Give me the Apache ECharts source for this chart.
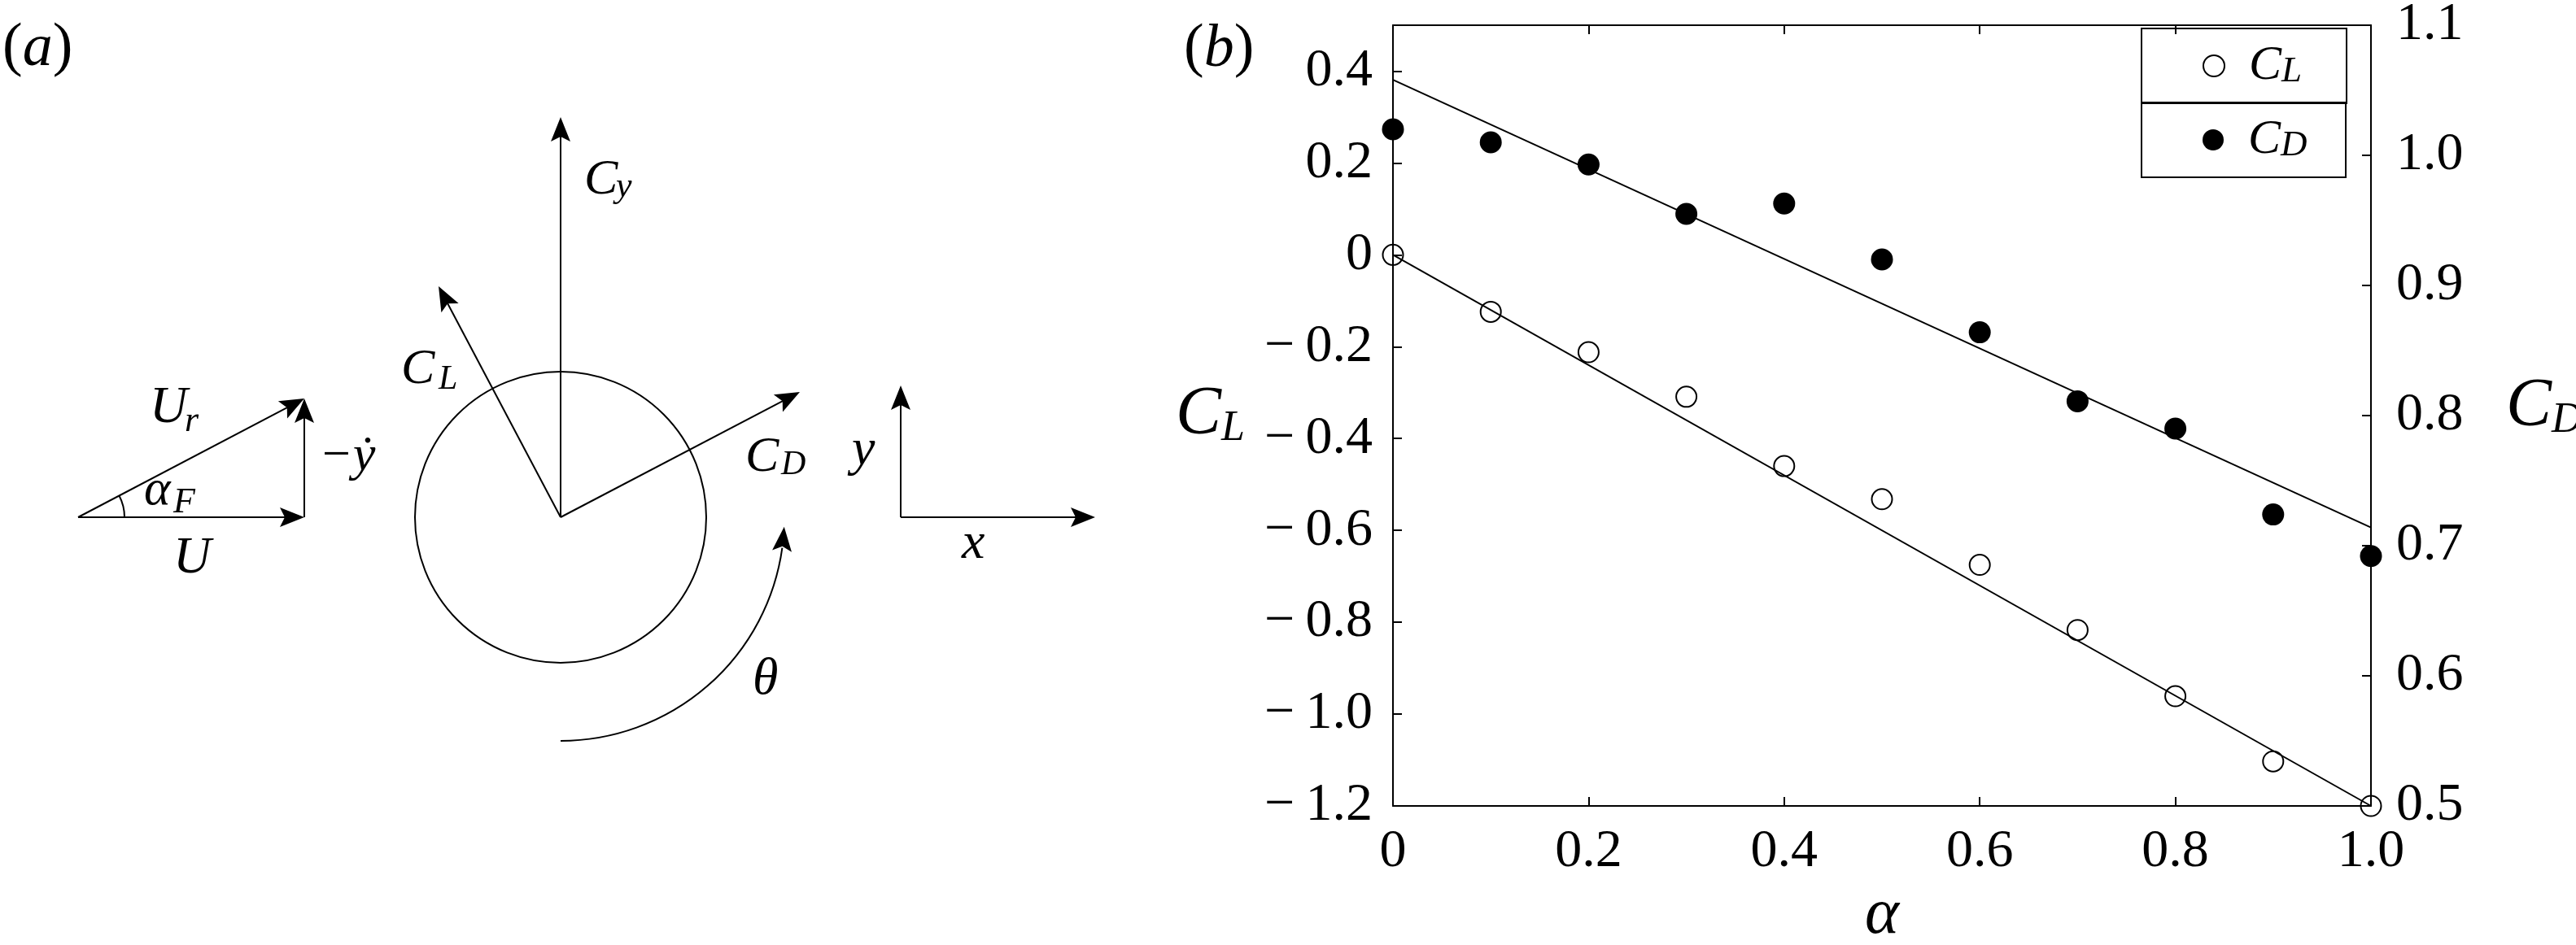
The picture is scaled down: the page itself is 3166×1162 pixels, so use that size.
<!DOCTYPE html>
<html>
<head>
<meta charset="utf-8">
<title>C_L and C_D against alpha</title>
<script src="https://cdn.jsdelivr.net/npm/echarts@6/dist/echarts.min.js"></script>
<style>
  html, body { margin: 0; padding: 0; background: #fff; }
  #chart { width: 3166px; height: 1162px; }
</style>
</head>
<body>
<div id="chart"></div>
<script>
// values
const alpha = [0, 0.1, 0.2, 0.3, 0.4, 0.5, 0.6, 0.7, 0.8, 0.9, 1.0];
const clValues = [0, -0.124, -0.212, -0.309, -0.460, -0.532, -0.675, -0.817, -0.961, -1.103, -1.200];
const cdValues = [1.020, 1.010, 0.993, 0.955, 0.963, 0.920, 0.864, 0.811, 0.790, 0.724, 0.692];
// straight fit lines, value at alpha = 0 and alpha = 1
const fitAlpha = [0, 1.0];
const clFit = [0.0, -1.2];
const cdFit = [1.058, 0.714];
// axis ranges
const alphaRange = [0, 1.0];
const clRange = [-1.2, 0.5];
const cdRange = [0.5, 1.1];

const serif = 'Liberation Serif';

function pairs(xs, ys) {
  return xs.map((x, i) => [x, ys[i]]);
}

// 0 -> "0", negatives with a long minus sign
function fmt(v) {
  if (Math.abs(v) < 1e-9) return '0';
  const s = Math.abs(v).toFixed(1);
  return v < 0 ? '\u2212\u2009' + s : s;
}

// ---- schematic (a) helpers ----
const LW = 2;
function seg(x1, y1, x2, y2) {
  return { type: 'line', shape: { x1, y1, x2, y2 }, style: { stroke: '#000', lineWidth: LW } };
}
function head(tx, ty, dx, dy) {
  const len = Math.hypot(dx, dy);
  const ux = dx / len, uy = dy / len;
  const L = 30, W = 12, N = 6;
  const bx = tx - ux * L, by = ty - uy * L;
  return {
    type: 'polygon',
    shape: { points: [[tx, ty], [bx - uy * W, by + ux * W], [tx - ux * (L - N), ty - uy * (L - N)], [bx + uy * W, by - ux * W]] },
    style: { fill: '#000' }
  };
}
function arrow(x1, y1, x2, y2) {
  const dx = x2 - x1, dy = y2 - y1, len = Math.hypot(dx, dy);
  return [seg(x1, y1, x2 - dx / len * 20, y2 - dy / len * 20), head(x2, y2, dx, dy)];
}
function label(str, x, base, size, italic) {
  const st = { text: str, fill: '#000', fontSize: size, fontFamily: serif, align: 'left', verticalAlign: 'middle' };
  if (italic) st.fontStyle = 'italic';
  return { type: 'text', x: x, y: base - 0.31 * size, style: st };
}
function panelTag(letter, x, base) {
  return {
    type: 'text', x: x, y: base - 0.31 * 74,
    style: {
      text: '{n|(}{i|' + letter + '}{n|)}', align: 'left', verticalAlign: 'middle',
      rich: {
        n: { fontSize: 74, fontFamily: serif, fill: '#000' },
        i: { fontSize: 74, fontFamily: serif, fontStyle: 'italic', fill: '#000' }
      }
    }
  };
}

// cylinder centre and theta arc
const cx = 689, cy = 636;
const thetaR = 275, thetaTip = 0.043, thetaEnd = thetaTip + 26 / thetaR;
const tipX = cx + thetaR * Math.cos(thetaTip), tipY = cy + thetaR * Math.sin(thetaTip);
const endX = cx + thetaR * Math.cos(thetaEnd), endY = cy + thetaR * Math.sin(thetaEnd);

const schematic = [].concat(
  panelTag('a', 3, 83),
  panelTag('b', 1455, 84),
  // velocity triangle
  arrow(96, 636, 374, 636),
  arrow(96, 636, 374, 490),
  arrow(374, 636, 374, 490),
  [{ type: 'arc', shape: { cx: 96, cy: 636, r: 57, startAngle: -0.483, endAngle: 0, clockwise: true },
     style: { fill: 'none', stroke: '#000', lineWidth: LW } }],
  label('U', 184, 522, 64, true), label('r', 227, 532, 44, true),
  label('\u03b1', 177, 623, 62, true), label('F', 213, 632, 44, true),
  label('U', 213, 707, 64, true),
  label('\u2212\u1e8f', 392, 581, 62, true),
  // cylinder and force vectors
  [{ type: 'circle', shape: { cx: cx, cy: cy, r: 179 }, style: { fill: 'none', stroke: '#000', lineWidth: LW } }],
  arrow(cx, cy, 689, 144),
  arrow(cx, cy, 539, 352),
  arrow(cx, cy, 983, 482),
  label('C', 718, 241, 62, true), label('y', 757, 244, 44, true),
  label('C', 493, 474, 62, true), label('L', 539, 480, 42, true),
  label('C', 916, 582, 62, true), label('D', 960, 585, 42, true),
  // rotation theta
  [{ type: 'arc', shape: { cx: cx, cy: cy, r: thetaR, startAngle: Math.PI / 2, endAngle: thetaEnd, clockwise: false },
     style: { fill: 'none', stroke: '#000', lineWidth: LW } }],
  [head(tipX, tipY, tipX - endX, tipY - endY)],
  label('\u03b8', 925, 856, 64, true),
  // coordinate axes
  arrow(1107, 636, 1107, 474),
  arrow(1107, 636, 1346, 636),
  label('y', 1047, 574, 64, true),
  label('x', 1182, 689, 64, true)
);

// ---- chart (b) ----
const axisLine = { show: true, onZero: false, lineStyle: { color: '#000', width: 2 } };
const axisTick = { show: true, inside: true, length: 11, lineStyle: { color: '#000', width: 2 } };
const tickFont = { color: '#000', fontSize: 66, fontFamily: serif };
const nameRich = {
  c: { fontSize: 84, fontStyle: 'italic', fontFamily: serif, color: '#000', lineHeight: 84 },
  s: { fontSize: 52, fontStyle: 'italic', fontFamily: serif, color: '#000', lineHeight: 44, verticalAlign: 'bottom' }
};

function legendBox(name, top) {
  return {
    data: [name], selectedMode: false, orient: 'vertical',
    left: 2632, top: top,
    itemWidth: 26, itemHeight: 26,
    padding: [16, 44, 16, 75],
    borderColor: '#000', borderWidth: 2, borderRadius: 0,
    formatter: n => '{c|C}{s|' + n.slice(1) + '}',
    textStyle: {
      fontFamily: serif,
      rich: {
        c: { fontSize: 60, fontStyle: 'italic', fontFamily: serif, color: '#000', lineHeight: 60, padding: [0, 0, 0, 25] },
        s: { fontSize: 45, fontStyle: 'italic', fontFamily: serif, color: '#000', lineHeight: 34, verticalAlign: 'bottom', width: 36 }
      }
    }
  };
}

const option = {
  animation: false,
  backgroundColor: '#fff',
  grid: { left: 1712, right: 252, top: 31, bottom: 171, containLabel: false, outerBoundsMode: 'none' },
  legend: [legendBox('CL', 35), legendBox('CD', 126)],
  xAxis: [
    {
      type: 'value', position: 'bottom', min: alphaRange[0], max: alphaRange[1], interval: 0.2,
      axisLine, axisTick, splitLine: { show: false },
      axisLabel: Object.assign({ formatter: fmt, margin: 24 }, tickFont),
      name: '\u03b1', nameLocation: 'middle', nameGap: 60,
      nameTextStyle: { fontSize: 80, fontStyle: 'italic', fontFamily: serif, color: '#000' }
    },
    {
      type: 'value', position: 'top', min: alphaRange[0], max: alphaRange[1], interval: 0.2,
      axisLine, axisTick, splitLine: { show: false }, axisLabel: { show: false }
    }
  ],
  yAxis: [
    {
      type: 'value', position: 'left', min: clRange[0], max: clRange[1], interval: 0.2,
      axisLine, axisTick, splitLine: { show: false },
      axisLabel: Object.assign({ formatter: v => (v > 0.45 ? '' : fmt(v)), margin: 25 }, tickFont),
      name: '{c|C}{s|L}', nameLocation: 'middle', nameRotate: 0, nameGap: 182, nameMoveOverlap: false,
      nameTextStyle: { fontFamily: serif, rich: nameRich }
    },
    {
      type: 'value', position: 'right', min: cdRange[0], max: cdRange[1], interval: 0.1,
      axisLine, axisTick, splitLine: { show: false },
      axisLabel: Object.assign({ formatter: fmt, margin: 31 }, tickFont),
      name: '{c|C}{s|D}', nameLocation: 'middle', nameRotate: 0, nameGap: 166, nameMoveOverlap: false,
      nameTextStyle: { fontFamily: serif, rich: nameRich, padding: [0, 0, 20, 0] }
    }
  ],
  series: [
    {
      type: 'line', xAxisIndex: 0, yAxisIndex: 0, data: pairs(fitAlpha, clFit),
      symbol: 'none', silent: true, z: 2, lineStyle: { color: '#000', width: 2 }
    },
    {
      type: 'line', xAxisIndex: 0, yAxisIndex: 1, data: pairs(fitAlpha, cdFit),
      symbol: 'none', silent: true, z: 2, lineStyle: { color: '#000', width: 2 }
    },
    {
      name: 'CL', type: 'scatter', xAxisIndex: 0, yAxisIndex: 0, data: pairs(alpha, clValues),
      symbol: 'circle', symbolSize: 25, clip: false, z: 3,
      itemStyle: { color: 'rgba(255,255,255,0)', borderColor: '#000', borderWidth: 2, opacity: 1 }
    },
    {
      name: 'CD', type: 'scatter', xAxisIndex: 0, yAxisIndex: 1, data: pairs(alpha, cdValues),
      symbol: 'circle', symbolSize: 27, clip: false, z: 3,
      itemStyle: { color: '#000', opacity: 1 }
    }
  ],
  graphic: { elements: schematic }
};

const chart = echarts.init(document.getElementById('chart'));
function draw() {
  chart.clear();
  chart.setOption(option, true);
}
draw();
if (document.fonts) {
  document.fonts.ready.then(draw);
}
</script>
</body>
</html>
